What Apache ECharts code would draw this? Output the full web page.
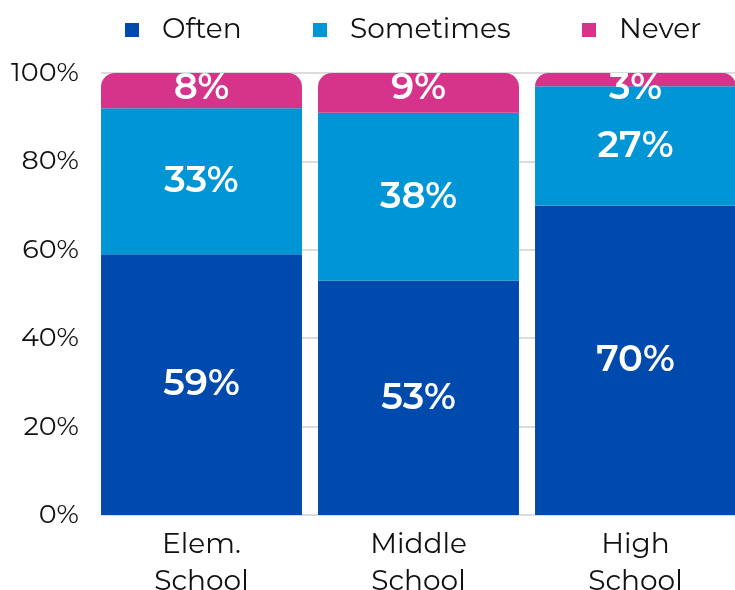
<!DOCTYPE html>
<html>
<head>
<meta charset="utf-8">
<script src="https://cdn.jsdelivr.net/npm/echarts@6/dist/echarts.min.js"></script>
<style>
  html, body { margin: 0; padding: 0; background: #fff; }
  #chart { width: 735px; height: 590px; }
</style>
</head>
<body>
<div id="chart"></div>
<script>
// School levels and how often each answer was given (percent)
const categories = ['Elem.\nSchool', 'Middle\nSchool', 'High\nSchool'];
const often = [59, 53, 70];
const sometimes = [33, 38, 27];
const never = [8, 9, 3];
const yTicks = [0, 20, 40, 60, 80, 100];

const FONT = 'Montserrat, "Noto Sans", sans-serif';
const colors = { Often: '#004AAD', Sometimes: '#0096D6', Never: '#D6338A' };

const chart = echarts.init(document.getElementById('chart'));

const valueLabel = {
  show: true,
  position: 'inside',
  color: '#fff',
  fontFamily: FONT,
  fontWeight: 600,
  fontSize: 37,
  formatter: p => p.value + '%'
};

function legendFor(name, left) {
  return {
    data: [name],
    left: left,
    top: 11,
    icon: 'rect',
    itemWidth: 14,
    itemHeight: 14,
    selectedMode: false,
    textStyle: { fontFamily: FONT, fontSize: 28, color: '#111', padding: [0, 0, 0, 18] }
  };
}

chart.setOption({
  animation: false,
  legend: [legendFor('Often', 120), legendFor('Sometimes', 308), legendFor('Never', 577)],
  grid: [
    { left: 93, width: 651, top: 73, bottom: 75, outerBoundsMode: 'none', containLabel: false },
    { left: 101, right: 0, top: 73, bottom: 75, outerBoundsMode: 'none', containLabel: false }
  ],
  xAxis: [
    {
      type: 'category', gridIndex: 0, data: categories,
      axisLine: { show: false }, axisTick: { show: false },
      axisLabel: { fontFamily: FONT, fontSize: 28, color: '#111', lineHeight: 37, margin: 11 }
    },
    { type: 'value', gridIndex: 1, min: 0, max: 1, show: false }
  ],
  yAxis: [
    { type: 'value', gridIndex: 0, min: 0, max: 100, show: false },
    {
      type: 'value', gridIndex: 1,
      min: yTicks[0], max: yTicks[yTicks.length - 1], interval: yTicks[1] - yTicks[0],
      axisLine: { show: false }, axisTick: { show: false },
      axisLabel: { fontFamily: FONT, fontSize: 27, color: '#111', margin: 22, formatter: '{value}%' },
      splitLine: { lineStyle: { color: '#cfcfcf', width: 1.5 } }
    }
  ],
  series: [
    {
      name: 'Often', type: 'bar', stack: 'all', data: often,
      xAxisIndex: 0, yAxisIndex: 0, barCategoryGap: '7.4%',
      itemStyle: { color: colors.Often },
      label: valueLabel
    },
    {
      name: 'Sometimes', type: 'bar', stack: 'all', data: sometimes,
      xAxisIndex: 0, yAxisIndex: 0,
      itemStyle: { color: colors.Sometimes },
      label: valueLabel
    },
    {
      name: 'Never', type: 'bar', stack: 'all', data: never,
      xAxisIndex: 0, yAxisIndex: 0,
      itemStyle: { color: colors.Never, borderRadius: [14, 14, 0, 0] },
      label: Object.assign({}, valueLabel, { position: ['50%', 15], align: 'center', verticalAlign: 'middle' })
    }
  ]
});
</script>
</body>
</html>
